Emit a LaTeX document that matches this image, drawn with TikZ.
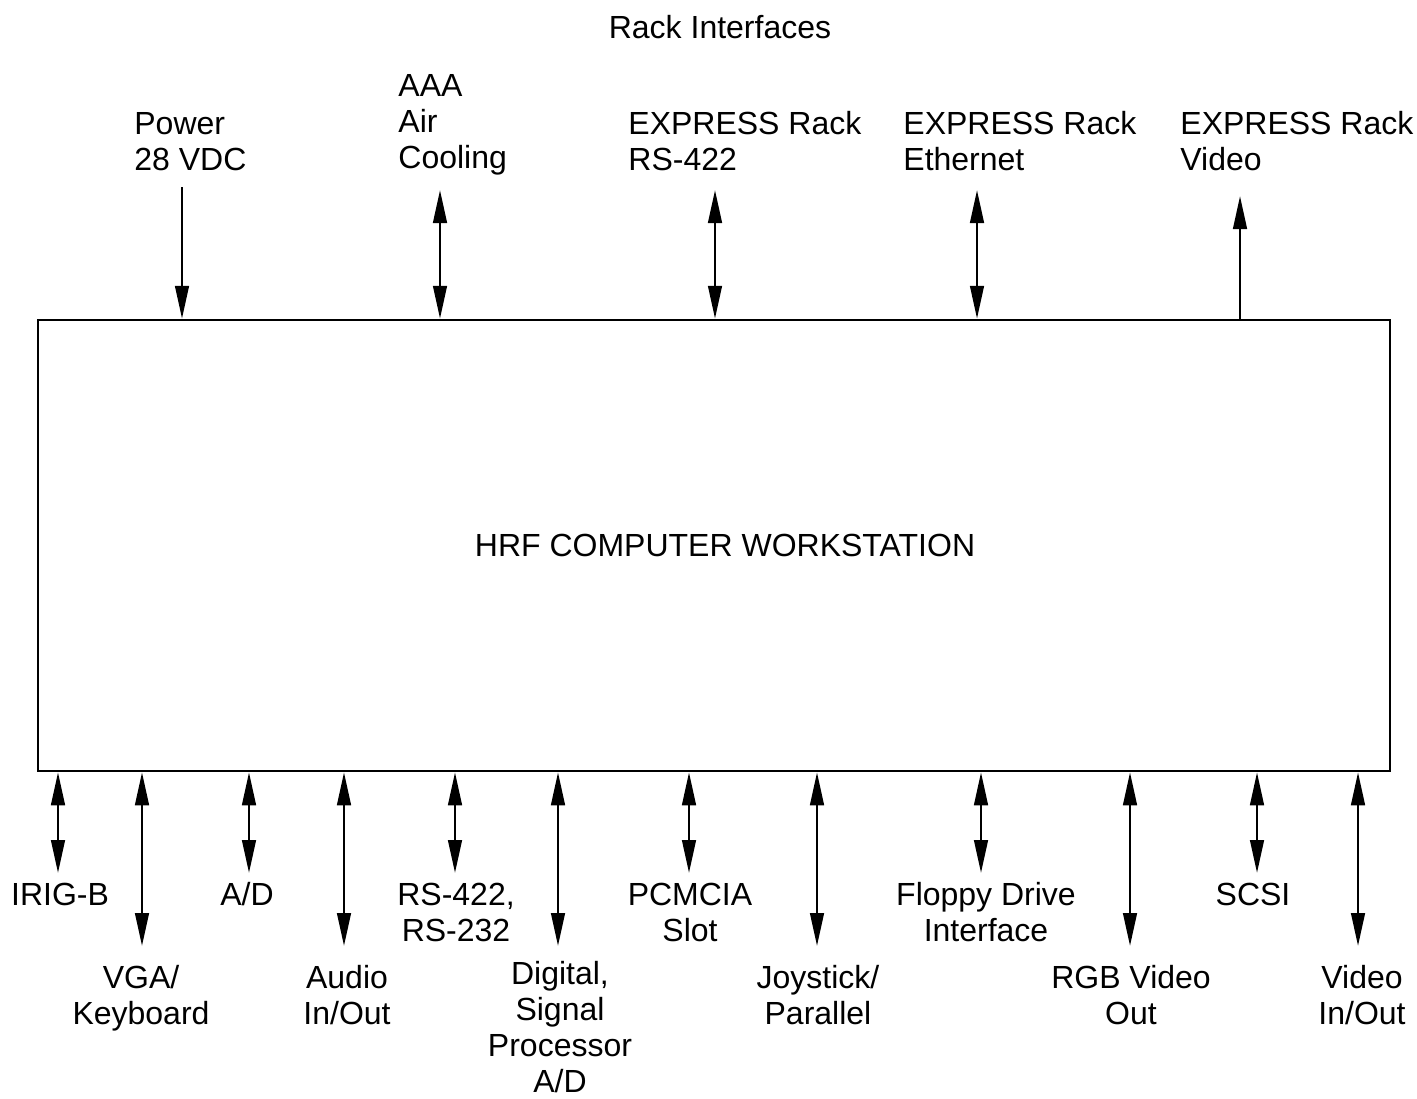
\documentclass[tikz,border=0pt]{standalone}
\usepackage{fontspec}
\setmainfont{Liberation Sans}
\usetikzlibrary{arrows.meta}
\tikzset{
  lbl/.style={inner sep=0pt, font=\fontsize{16}{18}\selectfont},
  lblc/.style={lbl, align=center, anchor=base},
  lbll/.style={lbl, align=left, anchor=base west},
  conn/.style={line width=1.35pt, -{Triangle[length=16.5pt,width=6.8pt]}},
  conn2/.style={line width=1.35pt, {Triangle[length=16.5pt,width=6.8pt]}-{Triangle[length=16.5pt,width=6.8pt]}},
}
\begin{document}
\begin{tikzpicture}[x=0.5pt,y=-0.5pt]
\useasboundingbox (0,0) rectangle (1417,1098);
% main box
\node[draw, line width=1.25pt, minimum width=676pt, minimum height=225.5pt, inner sep=0pt] (box) at (714,545.5) {};
\node[lbl] (title) at (725,545) {HRF COMPUTER WORKSTATION};
\node[lbl, anchor=base] (rack) at (720,38) {Rack Interfaces};
% top labels (anchor = baseline of last line)
\node[lbll] (tPow) at (134,170) {Power\\28 VDC};
\node[lbll] (tAir) at (398,168) {AAA\\Air\\Cooling};
\node[lbll] (tRS) at (628,170) {EXPRESS Rack\\RS-422};
\node[lbll] (tEth) at (903,170) {EXPRESS Rack\\Ethernet};
\node[lbll] (tVid) at (1180,170) {EXPRESS Rack\\Video};
% top connector ends
\coordinate (cPow) at (182,187);
\coordinate (cAir) at (440,190);
\coordinate (cRS) at (715,190);
\coordinate (cEth) at (977,190);
\coordinate (cVid) at (1240,196);
\draw[conn] (cPow) -- (cPow |- box.north);
\draw[conn2] (cAir) -- (cAir |- box.north);
\draw[conn2] (cRS) -- (cRS |- box.north);
\draw[conn2] (cEth) -- (cEth |- box.north);
\draw[conn] (cVid |- box.north) -- (cVid);
% bottom connector ends
\coordinate (bIrig) at (58,873);
\coordinate (bVga) at (142,946);
\coordinate (bAd) at (249,873);
\coordinate (bAud) at (344,946);
\coordinate (bRs) at (455,873);
\coordinate (bDsp) at (558,946);
\coordinate (bPcm) at (689,873);
\coordinate (bJoy) at (817,946);
\coordinate (bFlp) at (981,873);
\coordinate (bRgb) at (1130,946);
\coordinate (bScsi) at (1257,873);
\coordinate (bVio) at (1358,946);
\foreach \c in {bIrig,bVga,bAd,bAud,bRs,bDsp,bPcm,bJoy,bFlp,bRgb,bScsi,bVio}
  \draw[conn2] (\c |- box.south) -- (\c);
% bottom labels (anchor = baseline of last line)
\node[lblc] (lIrig) at (60,905) {IRIG-B};
\node[lblc] (lVga) at (141,1024) {VGA/\\Keyboard};
\node[lblc] (lAd) at (247,905) {A/D};
\node[lblc] (lAud) at (347,1024) {Audio\\In/Out};
\node[lblc] (lRs) at (456,941) {RS-422,\\RS-232};
\node[lblc] (lDsp) at (560,1092) {Digital,\\Signal\\Processor\\A/D};
\node[lblc] (lPcm) at (690,941) {PCMCIA\\Slot};
\node[lblc] (lJoy) at (818,1024) {Joystick/\\Parallel};
\node[lblc] (lFlp) at (986,941) {Floppy Drive\\Interface};
\node[lblc] (lRgb) at (1131,1024) {RGB Video\\Out};
\node[lblc] (lScsi) at (1253,905) {SCSI};
\node[lblc] (lVio) at (1362,1024) {Video\\In/Out};
\end{tikzpicture}
\end{document}
